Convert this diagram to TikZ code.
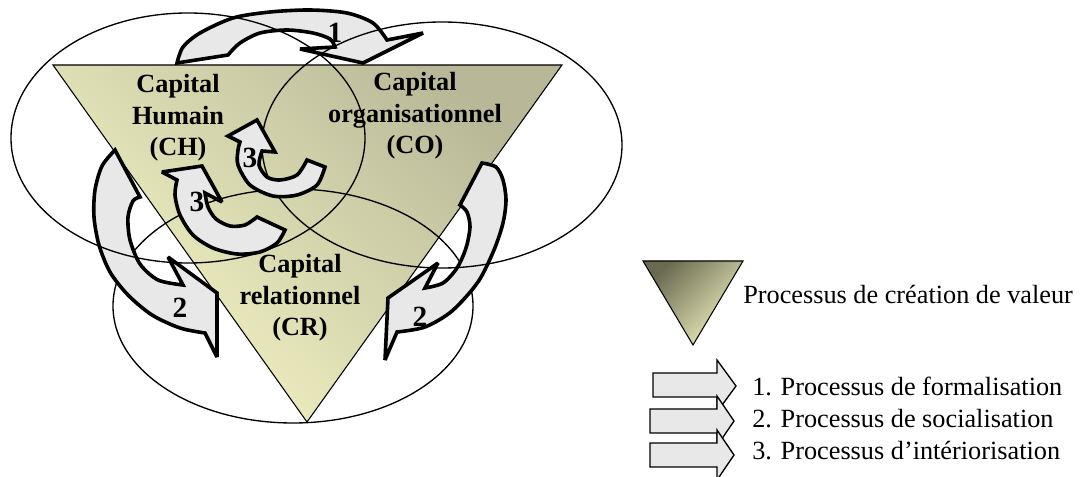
\documentclass[tikz,border=0pt]{standalone}
\usepackage{fontspec}
\setmainfont{Liberation Serif}
\usepackage{tikz}

\definecolor{bandgray}{HTML}{E8E8E8}
\definecolor{olivedark}{HTML}{B8B898}
\definecolor{olivelight}{HTML}{F6F6C6}
\definecolor{legenddark}{HTML}{6A6A50}
\definecolor{legendlight}{HTML}{F2F2C2}

\begin{document}
\begin{tikzpicture}[x=0.75pt,y=-0.75pt,
    flow/.style={draw,line width=2.7pt,fill=bandgray,miter limit=3},
    ring/.style={draw,line width=1pt},
    capital/.style={font=\bfseries\fontsize{19.7}{23.6}\selectfont,align=center,inner sep=0pt},
    num/.style={font=\bfseries\fontsize{22}{26}\selectfont,inner sep=0pt},
    legendtext/.style={font=\fontsize{19.7}{23.6}\selectfont,inner sep=0pt,anchor=base west},
    legendarrow/.style={draw,line width=1pt,fill=bandgray}]
  \useasboundingbox (0,0) rectangle (1083,477);

  \draw[line width=0.8pt,top color=olivedark,bottom color=olivelight,shading angle=-45]
    (53,65) -- (562,65) -- (307,422) -- cycle;

  \draw[ring] (293,306) ellipse [x radius=180, y radius=117];

  \draw[flow]
    (177,63) -- (228,55)
    -- plot[smooth] coordinates {(228,55) (240,43) (260,33) (287,30) (313,33) (330,39) (335,47)}
    -- (300,49) -- (363,63) -- (423,33) -- (387,40)
    -- plot[smooth] coordinates {(387,40) (373,23) (347,13) (310,10) (270,12) (233,18) (200,33) (183,47) (177,63)}
    -- cycle;

  \draw[flow]
    (115,150) -- (140,197)
    -- plot[smooth] coordinates {(140,197) (133,201) (128,217) (130,240) (140,264) (158,280) (183,285)}
    -- (168,257) -- (217,293) -- (217,357) -- (205,333)
    -- plot[smooth] coordinates {(205,333) (180,328) (152,315) (128,295) (110,272) (99,245) (94,217) (95,190) (102,166) (115,150)}
    -- cycle;

  \draw[flow]
    (482,163)
    -- plot[smooth] coordinates {(482,163) (496,167) (503,180) (506,200) (503,223) (494,250) (478,282) (452,311) (425,327) (397,332)}
    -- (385,360) -- (388,298) -- (438,263) -- (425,288)
    -- plot[smooth] coordinates {(425,288) (443,283) (457,268) (466,248) (470,227) (467,212) (460,205)}
    -- cycle;

  \draw[ring] (188,138) ellipse [x radius=177, y radius=125];
  \draw[ring] (442,145) ellipse [x radius=180, y radius=123];

  \draw[flow]
    (228,136) -- (257,120) -- (275,152) -- (262,151)
    -- plot[smooth] coordinates {(262,151) (259,165) (267,177) (280,180) (297,175) (307,160)}
    -- (325,167)
    -- plot[smooth] coordinates {(325,167) (317,185) (297,195) (273,196) (250,185) (238,165) (238,150) (240,142)}
    -- cycle;

  \draw[flow]
    (162,172) -- (202,166) -- (222,202) -- (205,193)
    -- plot[smooth] coordinates {(205,193) (208,207) (216,219) (230,226) (245,225) (257,217)}
    -- (285,230)
    -- plot[smooth] coordinates {(285,230) (277,243) (260,252) (237,254) (213,248) (193,235) (180,215) (175,195) (177,180)}
    -- cycle;

  \node[capital] (ch) at (178,118) {Capital\\Humain\\(CH)};
  \node[capital] (co) at (415,116) {Capital\\organisationnel\\(CO)};
  \node[capital] (cr) at (300,298) {Capital\\relationnel\\(CR)};

  \node[num] (n1) at (335,33) {1};
  \node[num] (n2a) at (180,308) {2};
  \node[num] (n2b) at (420,317) {2};
  \node[num] (n3a) at (250,158) {3};
  \node[num] (n3b) at (197,202) {3};

  \draw[line width=0.8pt,top color=legenddark,bottom color=legendlight,shading angle=45]
    (643,261) -- (743,261) -- (693,345) -- cycle;
  \node[legendtext] (valeur) at (743,304) {Processus de création de valeur};

  \draw[legendarrow] (653,373) -- (717,373) -- (717,360) -- (736,386) -- (717,412) -- (717,397) -- (653,397) -- cycle;
  \draw[legendarrow] (650,409) -- (717,409) -- (717,396) -- (734,421) -- (717,446) -- (717,433) -- (650,433) -- cycle;
  \draw[legendarrow] (650,443) -- (717,443) -- (717,430) -- (734,455) -- (717,480) -- (717,467) -- (650,467) -- cycle;

  \node[legendtext] (formal) at (752,396) {1. Processus de formalisation};
  \node[legendtext] (social) at (752,428) {2. Processus de socialisation};
  \node[legendtext] (interior) at (752,460) {3. Processus d’intériorisation};
\end{tikzpicture}
\end{document}
